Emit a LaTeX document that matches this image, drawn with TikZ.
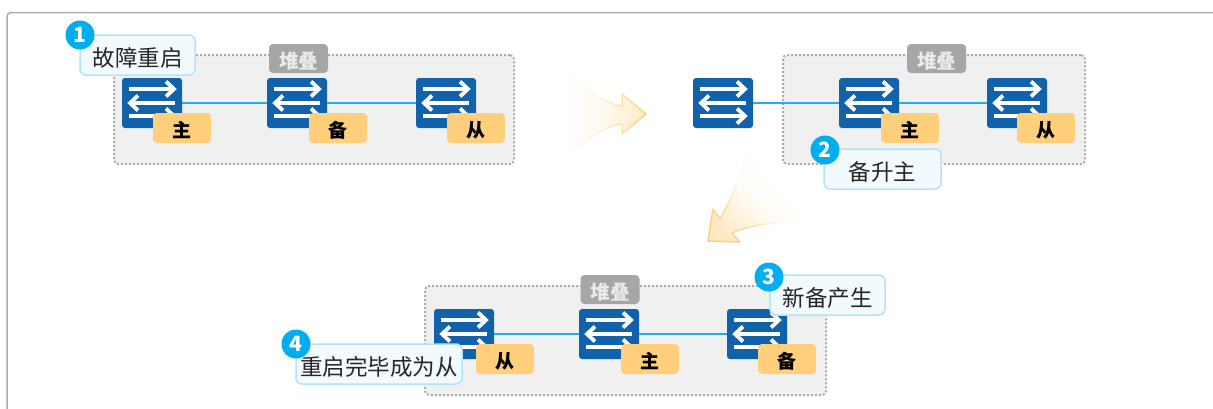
\documentclass[tikz,border=0pt]{standalone}
\usepackage{fontspec}
\setmainfont{Noto Sans CJK SC}
\usetikzlibrary{fadings}
\definecolor{swblue}{HTML}{1262AB}
\definecolor{linkblue}{HTML}{1DB0EE}
\definecolor{rolefill}{HTML}{FFCF7C}
\definecolor{stackfill}{HTML}{F0F0F0}
\definecolor{notefill}{HTML}{F2FAFE}
\definecolor{notedraw}{HTML}{B0E4F8}
\definecolor{numfill}{HTML}{00AEEF}
\definecolor{arrowfill}{HTML}{FFE9C4}
\definecolor{arrowdraw}{HTML}{FFCF7C}
\tikzfading[name=fadearrow, left color=transparent!100, right color=transparent!0, middle color=transparent!75]
\tikzfading[name=fadearrowd, left color=transparent!100, right color=transparent!0, middle color=transparent!90]
\tikzset{
    swnode/.style = {rectangle, rounded corners=3pt, fill=swblue, minimum width=60pt, minimum height=50pt, inner sep=0pt},
    rolenode/.style = {rectangle, rounded corners=4pt, fill=rolefill, minimum width=58pt, minimum height=30pt, inner sep=0pt, text=black, text height=19pt, text depth=0pt, font=\fontsize{19}{19}\selectfont\bfseries},
    tagnode/.style = {rectangle, rounded corners=4pt, fill=black!35, minimum width=59pt, minimum height=29pt, inner sep=0pt, text=white!92!black, text height=20pt, text depth=0pt, font=\fontsize{19.5}{19.5}\selectfont\bfseries},
    stacknode/.style = {rectangle, rounded corners=4pt, draw=black!33, line width=2pt, dash pattern=on 2pt off 2pt, fill=stackfill, minimum width=#1, minimum height=109pt, inner sep=0pt},
    notenode/.style = {rectangle, rounded corners=6pt, draw=notedraw, line width=1.5pt, fill=notefill, minimum width=#1, minimum height=40pt, inner sep=0pt, text=black!85, text height=22pt, text depth=0pt, font=\fontsize{22.5}{22.5}\selectfont},
    numnode/.style = {circle, fill=numfill, minimum size=29pt, inner sep=0pt, text=white, font=\fontsize{21}{21}\selectfont\bfseries},
    edgen/.style = {-, line width=2pt, linkblue},
    swline/.style = {-, line width=3.5pt, white},
    swhead/.style = {-, line width=3.8pt, white, line join=miter},
    bigarrow/.style = {line width=1.5pt, draw=arrowdraw, fill=arrowfill, line join=round},
    framen/.style = {line width=1.5pt, draw=black!32}
}
\begin{document}
\begin{tikzpicture}[x=1pt, y=-1pt]
  \useasboundingbox (0,0) rectangle (1213,408);
  \draw[framen, rounded corners=4pt] (7,420) -- (7,12.5) -- (1225,12.5);

  % stack boxes
  \node[stacknode=400pt] (stacka) at (314,109.5) {};
  \node[stacknode=302pt] (stackb) at (934,109.5) {};
  \node[stacknode=401pt] (stackc) at (625.5,340.5) {};

  % switches
  \node[swnode] (swa1) at (152,103) {};
  \node[swnode] (swa2) at (297,103) {};
  \node[swnode] (swa3) at (446,103) {};
  \node[swnode] (swb1) at (723,103) {};
  \node[swnode] (swb2) at (869,103) {};
  \node[swnode] (swb3) at (1017,103) {};
  \node[swnode] (swc1) at (464,334) {};
  \node[swnode] (swc2) at (609,334) {};
  \node[swnode] (swc3) at (757,334) {};

  % links
  \foreach \from/\to in {swa1/swa2,swa2/swa3,swb1/swb2,swb2/swb3,swc1/swc2,swc2/swc3}
    \draw[edgen] (\from) -- (\to);

  % arrows inside the switches
  \foreach \sw in {swa1,swa2,swa3,swb1,swb2,swb3,swc1,swc2,swc3} {
    \draw[swline] ([shift={(-23,-14)}]\sw.center) -- ([shift={(21,-14)}]\sw.center);
    \draw[swhead] ([shift={(14,-21.5)}]\sw.center) -- ([shift={(22,-14)}]\sw.center) -- ([shift={(14,-6.5)}]\sw.center);
    \draw[swline] ([shift={(-21,0)}]\sw.center) -- ([shift={(23,0)}]\sw.center);
    \draw[swhead] ([shift={(-14,-7.5)}]\sw.center) -- ([shift={(-22,0)}]\sw.center) -- ([shift={(-14,7.5)}]\sw.center);
    \draw[swline] ([shift={(-23,13)}]\sw.center) -- ([shift={(21,13)}]\sw.center);
    \draw[swhead] ([shift={(14,5.5)}]\sw.center) -- ([shift={(22,13)}]\sw.center) -- ([shift={(14,20.5)}]\sw.center);
  }

  % stack tags
  \node[tagnode] (taga) at (298.5,58.5) {堆叠};
  \node[tagnode] (tagb) at (936.5,58.5) {堆叠};
  \node[tagnode] (tagc) at (610,289.5) {堆叠};

  % roles
  \node[rolenode] (rolea1) at (182,128) {主};
  \node[rolenode] (rolea2) at (338,128) {备};
  \node[rolenode] (rolea3) at (476,128) {从};
  \node[rolenode] (roleb2) at (910,128) {主};
  \node[rolenode] (roleb3) at (1046,128) {从};
  \node[rolenode] (rolec1) at (505,359) {从};
  \node[rolenode] (rolec2) at (650,359) {主};
  \node[rolenode] (rolec3) at (787,359) {备};

  % notes
  \node[notenode=115pt] (notea) at (137.5,55) {故障重启};
  \node[notenode=117pt] (noteb) at (882.5,169) {备升主};
  \node[notenode=115pt] (notec) at (827.5,295) {新备产生};
  \node[notenode=166pt] (noted) at (379,364) {重启完毕成为从};
  \node[numnode] (numa) at (80,35) {1};
  \node[numnode] (numb) at (825,150) {2};
  \node[numnode] (numc) at (769,277) {3};
  \node[numnode] (numd) at (296,344) {4};

  % big arrows
  \path[bigarrow, path fading=fadearrow, fading angle=0] (562,70) .. controls (590,90) and (605,104) .. (622,106)
    -- (622,94) -- (646,114) -- (622,134) -- (622,124)
    .. controls (600,127) and (585,142) .. (562,160) -- cycle;
  \path[bigarrow, path fading=fadearrowd, fading angle=225] (745,155) .. controls (740,180) and (730,200) .. (720,219)
    -- (713,209) -- (708,241) -- (740,242) -- (732,233)
    .. controls (750,225) and (775,222) .. (802,222) -- cycle;
\end{tikzpicture}
\end{document}
